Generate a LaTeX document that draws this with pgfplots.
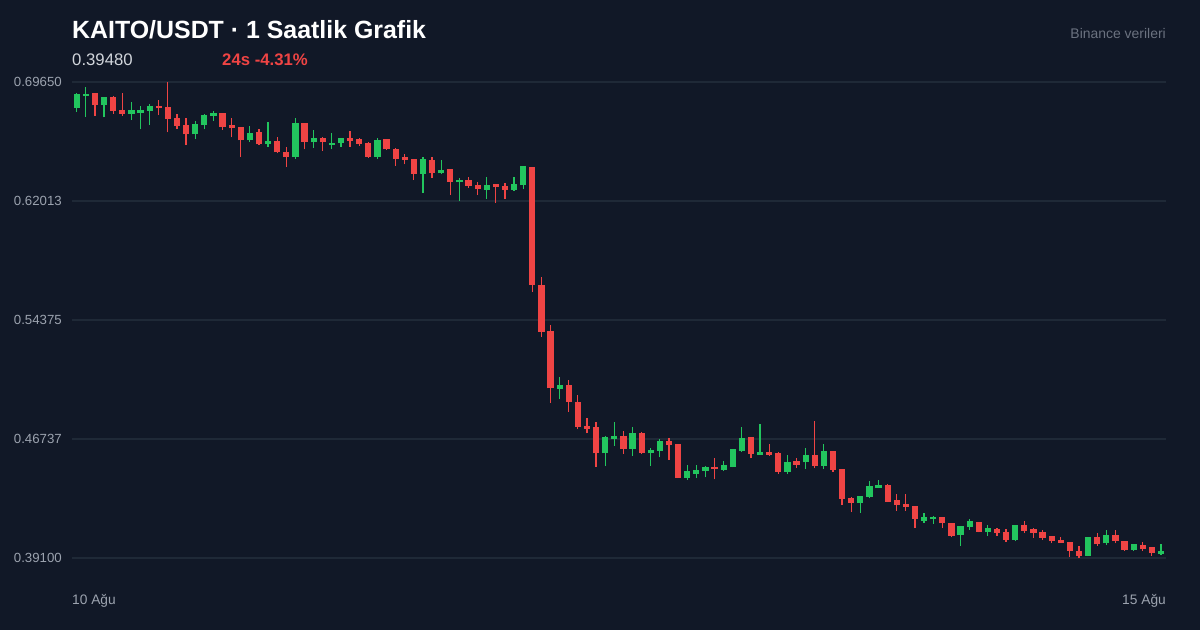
\documentclass[border=0pt]{standalone}
\usepackage{pgfplots}
\pgfplotsset{compat=1.18}
\usepackage{pgfplotstable}
\usepackage{fontspec}
\setmainfont{Liberation Sans}

\definecolor{bg}{HTML}{111827}
\definecolor{gridc}{HTML}{1F2937}
\definecolor{tickc}{HTML}{9CA3AF}
\definecolor{srcc}{HTML}{6B7280}
\definecolor{pricec}{HTML}{D1D5DB}
\definecolor{upc}{HTML}{22C55E}
\definecolor{downc}{HTML}{EF4444}

% hourly candles, x = hour index (0 = 10 Ağu), open high low close
\pgfplotstableread{
x O H L C
0 0.6798 0.6896 0.6771 0.6882
1 0.6873 0.6935 0.6742 0.6880
3 0.6817 0.6866 0.6738 0.6864
6 0.6760 0.6835 0.6721 0.6781
7 0.6768 0.6811 0.6661 0.6781
8 0.6781 0.6822 0.6689 0.6807
13 0.6629 0.6715 0.6599 0.6689
14 0.6689 0.6760 0.6661 0.6747
15 0.6747 0.6779 0.6715 0.6760
19 0.6591 0.6683 0.6582 0.6633
21 0.6565 0.6708 0.6550 0.6578
24 0.6482 0.6732 0.6471 0.6694
26 0.6578 0.6657 0.6543 0.6601
28 0.6559 0.6638 0.6533 0.6569
29 0.6572 0.6600 0.6550 0.6599
33 0.6486 0.6608 0.6471 0.6586
38 0.6375 0.6484 0.6255 0.6464
40 0.6379 0.6464 0.6373 0.6396
42 0.6321 0.6347 0.6201 0.6332
45 0.6272 0.6353 0.6214 0.6298
48 0.6272 0.6357 0.6267 0.6304
49 0.6304 0.6421 0.6276 0.6418
53 0.4997 0.5074 0.4929 0.5014
58 0.4582 0.4690 0.4501 0.4678
59 0.4674 0.4781 0.4631 0.4685
61 0.4612 0.4749 0.4567 0.4704
63 0.4582 0.4614 0.4502 0.4595
64 0.4597 0.4674 0.4556 0.4656
67 0.4425 0.4507 0.4411 0.4460
68 0.4451 0.4507 0.4422 0.4468
69 0.4468 0.4502 0.4428 0.4490
71 0.4475 0.4533 0.4468 0.4501
72 0.4496 0.4608 0.4492 0.4603
73 0.4599 0.4753 0.4592 0.4674
75 0.4573 0.4770 0.4573 0.4582
78 0.4464 0.4571 0.4449 0.4522
80 0.4524 0.4616 0.4481 0.4567
82 0.4501 0.4640 0.4481 0.4588
86 0.4265 0.4302 0.4199 0.4300
87 0.4300 0.4404 0.4293 0.4364
88 0.4361 0.4409 0.4359 0.4370
93 0.4147 0.4201 0.4137 0.4165
94 0.4158 0.4181 0.4130 0.4169
97 0.4058 0.4117 0.3987 0.4111
98 0.4111 0.4158 0.4090 0.4139
100 0.4075 0.4122 0.4053 0.4094
103 0.4026 0.4122 0.4019 0.4115
111 0.3925 0.4040 0.3921 0.4036
113 0.4004 0.4090 0.3993 0.4053
116 0.3961 0.3998 0.3955 0.3993
119 0.3938 0.3998 0.3931 0.3948
}\up

\pgfplotstableread{
x O H L C
2 0.6886 0.6890 0.6749 0.6817
4 0.6860 0.6875 0.6760 0.6781
5 0.6779 0.6892 0.6749 0.6762
9 0.6807 0.6849 0.6753 0.6796
10 0.6796 0.6965 0.6642 0.6728
11 0.6728 0.6758 0.6663 0.6685
12 0.6683 0.6732 0.6561 0.6629
16 0.6758 0.6764 0.6657 0.6678
17 0.6681 0.6732 0.6610 0.6668
18 0.6672 0.6676 0.6486 0.6591
20 0.6636 0.6661 0.6561 0.6565
22 0.6580 0.6612 0.6507 0.6514
23 0.6507 0.6546 0.6419 0.6482
25 0.6694 0.6700 0.6533 0.6582
27 0.6601 0.6614 0.6522 0.6578
30 0.6599 0.6651 0.6548 0.6586
31 0.6593 0.6604 0.6557 0.6567
32 0.6565 0.6582 0.6479 0.6486
34 0.6593 0.6599 0.6527 0.6533
35 0.6529 0.6543 0.6428 0.6473
36 0.6475 0.6501 0.6437 0.6464
37 0.6464 0.6466 0.6336 0.6375
39 0.6460 0.6484 0.6351 0.6379
41 0.6398 0.6405 0.6240 0.6325
43 0.6330 0.6353 0.6287 0.6298
44 0.6299 0.6321 0.6242 0.6276
46 0.6302 0.6304 0.6190 0.6289
47 0.6293 0.6315 0.6216 0.6272
50 0.6413 0.6418 0.5619 0.5662
51 0.5658 0.5712 0.5330 0.5362
52 0.5362 0.5405 0.4907 0.4999
54 0.5014 0.5052 0.4849 0.4913
55 0.4903 0.4956 0.4736 0.4753
56 0.4753 0.4810 0.4710 0.4740
57 0.4746 0.4783 0.4496 0.4582
60 0.4685 0.4725 0.4576 0.4612
62 0.4706 0.4717 0.4576 0.4586
65 0.4656 0.4678 0.4539 0.4635
66 0.4635 0.4640 0.4422 0.4425
70 0.4490 0.4550 0.4415 0.4479
74 0.4678 0.4687 0.4550 0.4579
76 0.4584 0.4640 0.4565 0.4573
77 0.4576 0.4588 0.4451 0.4464
79 0.4528 0.4550 0.4490 0.4507
81 0.4567 0.4789 0.4486 0.4501
83 0.4588 0.4590 0.4464 0.4475
84 0.4473 0.4475 0.4250 0.4291
85 0.4287 0.4300 0.4205 0.4265
89 0.4370 0.4383 0.4269 0.4271
90 0.4276 0.4321 0.4212 0.4250
91 0.4250 0.4321 0.4212 0.4237
92 0.4237 0.4244 0.4101 0.4160
95 0.4169 0.4171 0.4101 0.4133
96 0.4128 0.4133 0.4043 0.4053
99 0.4133 0.4135 0.4075 0.4079
101 0.4090 0.4104 0.4053 0.4069
102 0.4069 0.4099 0.4013 0.4026
104 0.4115 0.4147 0.4069 0.4085
105 0.4090 0.4101 0.4040 0.4069
106 0.4069 0.4090 0.4026 0.4040
107 0.4047 0.4053 0.4004 0.4019
108 0.4019 0.4043 0.4005 0.4006
109 0.4004 0.4006 0.3918 0.3955
110 0.3950 0.3989 0.3908 0.3925
112 0.4036 0.4069 0.3989 0.3998
114 0.4053 0.4090 0.4004 0.4019
115 0.4015 0.4016 0.3955 0.3961
117 0.3989 0.4015 0.3955 0.3968
118 0.3972 0.3974 0.3925 0.3944
}\down

\begin{document}
\begin{tikzpicture}
\fill[bg] (0bp,0bp) rectangle (1200bp,630bp);
\useasboundingbox (0bp,0bp) rectangle (1200bp,630bp);

\begin{axis}[
  at={(72bp,60bp)}, anchor=south west,
  scale only axis, width=1094bp, height=500bp,
  xmin=-0.52, xmax=119.55,
  ymin=0.38330, ymax=0.70420,
  axis line style={draw=none},
  major tick length=0pt,
  xtick=\empty,
  ytick={0.391,0.46737,0.54375,0.62013,0.6965},
  yticklabels={0.39100,0.46737,0.54375,0.62013,0.69650},
  yticklabel style={anchor=east, inner sep=0pt, xshift=-10bp, text=tickc,
    font=\fontsize{13.3}{15}\selectfont},
  ymajorgrids,
  grid style={gridc, line width=1.2bp},
  clip=false,
  every axis plot/.append style={draw=none, mark=none,
    error bars/y dir=plus, error bars/y explicit, error bars/error mark=none},
]
  % wicks
  \addplot[error bars/error bar style={draw=upc, line width=1.2bp}]
    table[x=x, y=L, y error plus expr=\thisrow{H}-\thisrow{L}] {\up};
  \addplot[error bars/error bar style={draw=downc, line width=1.2bp}]
    table[x=x, y=L, y error plus expr=\thisrow{H}-\thisrow{L}] {\down};
  % bodies
  \addplot[error bars/error bar style={draw=upc, line width=6.2bp}]
    table[x=x, y=O, y error plus expr=\thisrow{C}-\thisrow{O}+0.0006] {\up};
  \addplot[error bars/error bar style={draw=downc, line width=6.2bp}]
    table[x=x, y=C, y error plus expr=\thisrow{O}-\thisrow{C}+0.0006] {\down};
\end{axis}

\node[anchor=base west, inner sep=0pt, text=white, font=\fontsize{25}{29}\selectfont\bfseries]
  at (72bp,591.7bp) {KAITO/USDT · 1 Saatlik Grafik};
\node[anchor=base west, inner sep=0pt, text=pricec, font=\fontsize{16.8}{19}\selectfont]
  at (72bp,564.3bp) {0.39480};
\node[anchor=base west, inner sep=0pt, text=downc, font=\fontsize{16.8}{19}\selectfont\bfseries]
  at (222bp,564.3bp) {24s -4.31\%};
\node[anchor=base east, inner sep=0pt, text=srcc, font=\fontsize{14}{16}\selectfont]
  at (1166bp,591.7bp) {Binance verileri};
\node[anchor=base west, inner sep=0pt, text=tickc, font=\fontsize{13.8}{15}\selectfont]
  at (72bp,25.7bp) {10 Ağu};
\node[anchor=base east, inner sep=0pt, text=tickc, font=\fontsize{13.8}{15}\selectfont]
  at (1166bp,25.7bp) {15 Ağu};
\end{tikzpicture}
\end{document}
